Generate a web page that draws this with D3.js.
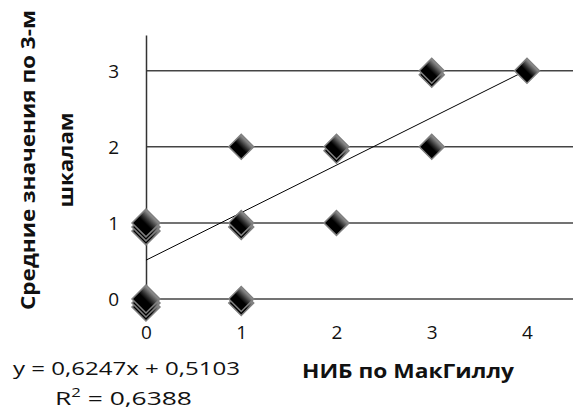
<!DOCTYPE html>
<html>
<head>
<meta charset="utf-8">
<script src="https://cdn.jsdelivr.net/npm/d3@7"></script>
<style>
  body { margin: 0; background: #fff; }
  text { font-family: "Open Sans", sans-serif; fill: #111; }
  .tick text { font-size: 19px; }
  .title { font-weight: bold; font-size: 19px; }
</style>
</head>
<body>
<div id="chart"></div>
<script>
//// DATA ////

// НИБ по МакГиллу (x) and mean of 3 scales (y); count = overlapping points
var xValues = [0, 0, 1, 1, 1, 2, 2, 3, 3, 4];
var yValues = [0, 1, 0, 1, 2, 1, 2, 2, 3, 3];
var counts  = [3, 3, 2, 2, 1, 1, 2, 1, 2, 1];

var xTicks = [0, 1, 2, 3, 4];
var yTicks = [0, 1, 2, 3];

// linear trend shown in the chart
var slope = 0.6247;
var intercept = 0.5103;
var equationLabel = "y = 0,6247x + 0,5103";
var r2Label = "0,6388";

var xTitle = "НИБ по МакГиллу";
var yTitle = ["Средние значения по 3-м", "шкалам"];

//// SET UP ////

var svgWidth = 573;
var svgHeight = 412;

var margin = { top: 35, right: 0, bottom: 113, left: 146 };
var width = svgWidth - margin.left - margin.right;
var height = svgHeight - margin.top - margin.bottom;

var svg = d3.select("#chart")
  .append("svg")
  .attr("width", svgWidth)
  .attr("height", svgHeight);

var chartGroup = svg.append("g")
  .attr("transform", `translate(${margin.left}, ${margin.top})`);

var xScale = d3.scaleLinear()
  .domain([0, 4])
  .range([0, 381]);

var yScale = d3.scaleLinear()
  .domain([0, 3.47])
  .range([height, 0]);

// marker gradient
var defs = svg.append("defs");
var grad = defs.append("linearGradient")
  .attr("id", "mk")
  .attr("x1", 0).attr("y1", 0).attr("x2", 0).attr("y2", 1);
grad.append("stop").attr("offset", "0%").attr("stop-color", "#9a9a9a");
grad.append("stop").attr("offset", "35%").attr("stop-color", "#333");
grad.append("stop").attr("offset", "55%").attr("stop-color", "#000");
grad.append("stop").attr("offset", "100%").attr("stop-color", "#000");

// horizontal gridlines
chartGroup.append("g")
  .selectAll("line")
  .data(yTicks)
  .enter()
  .append("line")
  .attr("x1", 0)
  .attr("x2", width)
  .attr("y1", d => yScale(d))
  .attr("y2", d => yScale(d))
  .attr("stroke", "#444")
  .attr("stroke-width", 1.5);

// y axis
var leftAxis = d3.axisLeft(yScale).tickValues(yTicks).tickFormat(d3.format("d"))
  .tickSize(0).tickPadding(27);
var yAxis = chartGroup.append("g").call(leftAxis);
yAxis.select(".domain").attr("stroke", "#333").attr("stroke-width", 1.5);
yAxis.selectAll(".tick text").attr("dy", "0.36em");

// x axis (labels only, the 0 gridline is the baseline)
var bottomAxis = d3.axisBottom(xScale).tickValues(xTicks).tickFormat(d3.format("d"))
  .tickSize(0).tickPadding(27);
var xAxis = chartGroup.append("g")
  .attr("transform", `translate(0, ${height})`)
  .call(bottomAxis);
xAxis.select(".domain").remove();

// trend line
chartGroup.append("line")
  .attr("x1", xScale(0))
  .attr("y1", yScale(intercept))
  .attr("x2", xScale(4))
  .attr("y2", yScale(intercept + slope * 4))
  .attr("stroke", "#000")
  .attr("stroke-width", 1);

// markers: stacked copies for repeated points
var points = [];
xValues.forEach(function(x, i) {
  for (var k = counts[i] - 1; k >= 0; k--) {
    points.push({ x: x, y: yValues[i], k: k, n: counts[i] });
  }
});

chartGroup.selectAll(".marker")
  .data(points)
  .enter()
  .append("path")
  .attr("class", "marker")
  .attr("d", d => d3.symbol().type(d3.symbolSquare).size(d.n > 2 ? 390 : 310)())
  .attr("transform", d => `translate(${xScale(d.x)}, ${yScale(d.y) + d.k * 4}) rotate(45)`)
  .attr("fill", "url(#mk)")
  .attr("stroke", "#808080")
  .attr("stroke-width", 1.5);

// axis titles (text in the reference is stretched wide)
svg.append("text")
  .attr("class", "title")
  .attr("x", 408)
  .attr("y", 378)
  .attr("text-anchor", "middle")
  .attr("textLength", 212)
  .attr("lengthAdjust", "spacingAndGlyphs")
  .text(xTitle);

var yTitleLen = [300, 95];
svg.selectAll(".ytitle")
  .data(yTitle)
  .enter()
  .append("text")
  .attr("class", "title ytitle")
  .attr("transform", (d, i) => `translate(${35 + i * 38}, 160) rotate(-90)`)
  .attr("text-anchor", "middle")
  .attr("textLength", (d, i) => yTitleLen[i])
  .attr("lengthAdjust", "spacingAndGlyphs")
  .text(d => d);

// regression label
var eq = svg.append("g").style("font-size", "19px");
eq.append("text")
  .attr("x", 13)
  .attr("y", 375)
  .attr("textLength", 227)
  .attr("lengthAdjust", "spacingAndGlyphs")
  .text(equationLabel);
var r2 = eq.append("text")
  .attr("x", 55)
  .attr("y", 405)
  .attr("textLength", 137)
  .attr("lengthAdjust", "spacingAndGlyphs");
r2.append("tspan").text("R");
r2.append("tspan").attr("dy", -8).style("font-size", "12px").text("2");
r2.append("tspan").attr("dy", 8).text(" = " + r2Label);
</script>
</body>
</html>
